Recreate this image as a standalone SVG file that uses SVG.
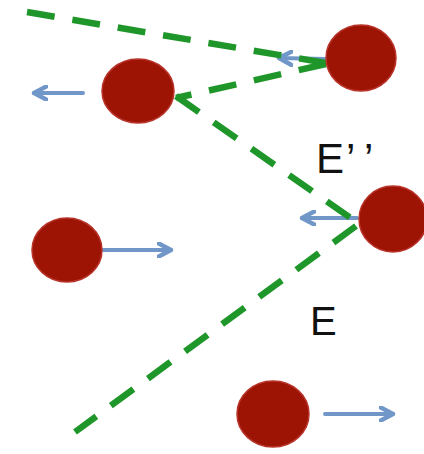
<svg xmlns="http://www.w3.org/2000/svg" width="424" height="454" viewBox="0 0 424 454">
<style>
.ball{fill:#9e1404;stroke:#b8342a;stroke-width:1.5}
.arr{stroke:#7197c9;stroke-width:4;fill:none;stroke-linecap:round}
.dash{stroke:#1f962a;stroke-width:6.5;fill:none;stroke-dasharray:28 18}
.lbl{font-family:"Liberation Sans",Arial,sans-serif;fill:#111}
</style>
<defs>
<marker id="ah" viewBox="0 0 10 10" refX="8.5" refY="5" markerWidth="4.2" markerHeight="4.2" markerUnits="strokeWidth" orient="auto">
<path d="M1,1 L8.5,5 L1,9" fill="none" stroke="#7197c9" stroke-width="2.6" stroke-linecap="round" stroke-linejoin="round"/>
</marker>
</defs>
<g id="connectors">
<line class="arr" x1="325" y1="59" x2="279" y2="58" marker-end="url(#ah)"/>
<line class="arr" x1="83" y1="93" x2="34" y2="93" marker-end="url(#ah)"/>
<line class="arr" x1="357" y1="218" x2="302" y2="218" marker-end="url(#ah)"/>
<line class="arr" x1="103" y1="250" x2="171" y2="250" marker-end="url(#ah)"/>
<line class="arr" x1="325" y1="414" x2="393" y2="414" marker-end="url(#ah)"/>
<line class="dash" x1="27" y1="12" x2="326" y2="63"/>
<line class="dash" x1="326" y1="64" x2="176" y2="98"/>
<line class="dash" x1="176" y1="96" x2="362" y2="226"/>
<line class="dash" x1="356" y1="226" x2="75" y2="432"/>
</g>
<g id="n1"><ellipse class="ball" cx="361" cy="58" rx="35" ry="33"/></g>
<g id="n2"><ellipse class="ball" cx="138" cy="91" rx="36" ry="32"/></g>
<g id="n3"><ellipse class="ball" cx="393" cy="219" rx="34" ry="33"/></g>
<g id="n4"><ellipse class="ball" cx="67" cy="250" rx="35" ry="32"/></g>
<g id="n5"><ellipse class="ball" cx="273" cy="414" rx="36" ry="33"/></g>
<g id="labels">
<text class="lbl" font-size="42" x="316" y="173">E<tspan x="346">’</tspan><tspan x="364">’</tspan></text>
<text class="lbl" font-size="40" x="310" y="335">E</text>
</g>
</svg>
